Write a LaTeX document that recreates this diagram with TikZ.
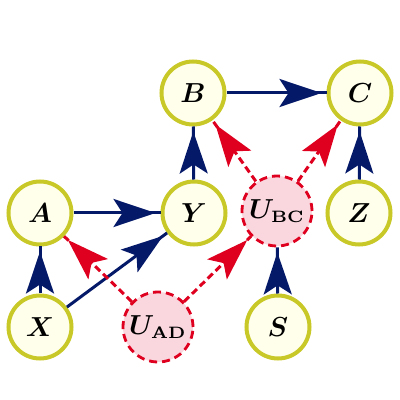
\documentclass[tikz,border=0pt]{standalone}
\usepackage{amsmath,bm,graphicx}
\DeclareMathSizes{10}{10}{6}{5}
\usetikzlibrary{arrows.meta,decorations.markings}
\definecolor{navy}{RGB}{5,25,105}
\definecolor{dred}{RGB}{222,0,30}
\definecolor{yel}{RGB}{200,200,40}
\definecolor{yfill}{RGB}{255,255,236}
\definecolor{pfill}{RGB}{250,214,222}
\newcommand{\lbl}[1]{\scalebox{2.75}{$#1$}}
\tikzset{
  var/.style={circle,draw=yel,line width=4pt,fill=yfill,minimum size=63pt,inner sep=0pt,font=\fontsize{10}{12}\selectfont},
  lat/.style={circle,draw=dred,line width=2.8pt,dash pattern=on 8pt off 5pt,fill=pfill,minimum size=70pt,inner sep=0pt,font=\fontsize{10}{12}\selectfont},
  bedge/.style={draw=navy,line width=3pt,postaction={decorate},
    decoration={markings,mark=at position -5pt with {\arrow[navy]{Stealth[length=42pt,width=28pt,inset=9pt]}}}},
  redge/.style={draw=dred,line width=3pt,dash pattern=on 7pt off 4pt,postaction={decorate},
    decoration={markings,mark=at position -5pt with {\arrow[dred]{Stealth[length=42pt,width=28pt,inset=9pt]}}}}
}
\begin{document}
\begin{tikzpicture}[x=1pt,y=1pt]
\useasboundingbox (0,0) rectangle (400,400);
\node[var] (B) at (193,307) {\lbl{\bm{B}}};
\node[var] (C) at (360,307) {\lbl{\bm{C}}};
\node[var] (A) at (40,187) {\lbl{\bm{A}}};
\node[var] (Y) at (194,187) {\lbl{\bm{Y}}};
\node[lat] (UBC) at (277,189) {\lbl{\bm{U}_{\mathbf{BC}}}};
\node[var] (Z) at (359,187) {\lbl{\bm{Z}}};
\node[var] (X) at (40,73) {\lbl{\bm{X}}};
\node[lat] (UAD) at (158,73) {\lbl{\bm{U}_{\mathbf{AD}}}};
\node[var] (S) at (278,73) {\lbl{\bm{S}}};
\path[bedge] (X) -- (A);
\path[bedge] (X) -- (Y);
\path[bedge] (A) -- (Y);
\path[bedge] (Y) -- (B);
\path[bedge] (B) -- (C);
\path[bedge] (Z) -- (C);
\path[bedge] (S) -- (UBC);
\path[redge] (UAD) -- (A);
\path[redge] (UAD) -- (UBC);
\path[redge] (UBC) -- (B);
\path[redge] (UBC) -- (C);
\end{tikzpicture}
\end{document}
